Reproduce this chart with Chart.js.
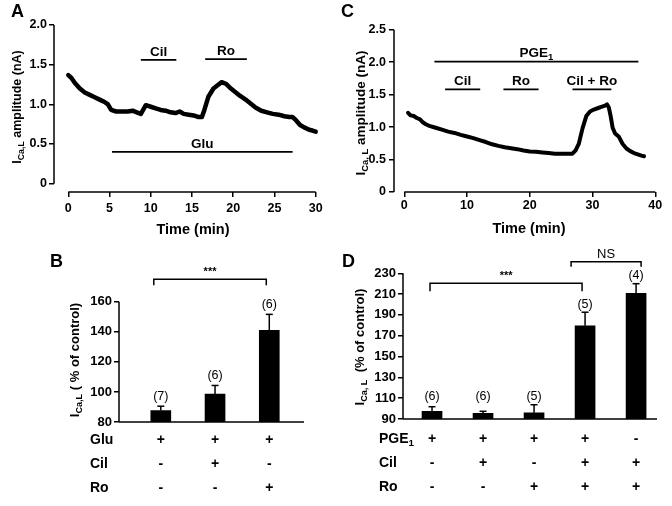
<!DOCTYPE html>
<html>
<head>
<meta charset="utf-8">
<script src="https://cdn.jsdelivr.net/npm/chart.js@4.4.1/dist/chart.umd.min.js"></script>
<style>
  body { margin: 0; background: #fff; width: 672px; height: 506px; position: relative; overflow: hidden; }
  canvas { position: absolute; }
</style>
</head>
<body>
<canvas id="chartA" width="336" height="250" style="left:0;top:0"></canvas>
<canvas id="chartC" width="336" height="250" style="left:336px;top:0"></canvas>
<canvas id="chartB" width="336" height="266" style="left:0;top:240px"></canvas>
<canvas id="chartD" width="336" height="266" style="left:336px;top:240px"></canvas>
<script>
// Panel A: ICa,L trace with glucagon
const timeA = [0, 0.4, 0.8, 1.4, 2, 2.6, 3.2, 3.8, 4.4, 4.8, 5.2, 5.8, 6.5, 7.2, 7.8, 8.3, 8.8, 9.4, 10, 10.6,
  11.2, 11.8, 12.4, 13, 13.5, 14, 14.6, 15.2, 15.8, 16.2, 16.5, 17, 17.6, 18.1, 18.6, 19.1, 19.6, 20.2, 20.8,
  21.5, 22.1, 22.7, 23.4, 24.1, 24.8, 25.5, 26.2, 26.8, 27.2, 27.6, 28.1, 28.6, 29.2, 29.6, 30];
const currentA = [1.37, 1.33, 1.27, 1.20, 1.15, 1.12, 1.09, 1.06, 1.03, 1.00, 0.93, 0.91, 0.91, 0.91, 0.92, 0.90,
  0.88, 0.99, 0.97, 0.95, 0.93, 0.92, 0.90, 0.89, 0.91, 0.88, 0.87, 0.86, 0.84, 0.84, 0.93, 1.10, 1.20, 1.24,
  1.28, 1.26, 1.21, 1.16, 1.11, 1.06, 1.01, 0.96, 0.92, 0.90, 0.88, 0.87, 0.85, 0.84, 0.84, 0.80, 0.74, 0.71,
  0.68, 0.67, 0.655];
const drugA = ['Cil', 'Ro', 'Glu'];
const drugStartA = [8.8, 16.6, 5.3];
const drugEndA = [13.1, 21.65, 27.2];
const drugLevelA = [1.56, 1.57, 0.40];
const xTicksA = [0, 5, 10, 15, 20, 25, 30];
const yTicksA = [0, 0.5, 1, 1.5, 2];

// Panel C: ICa,L trace with PGE1
const timeC = [0.6, 1, 1.5, 2, 2.5, 3, 3.5, 4, 5, 6, 7, 8, 9, 10, 11, 12, 13, 14, 15, 16, 17, 18, 19, 20, 21,
  22, 23, 24, 25, 26, 26.8, 27.3, 27.8, 28.4, 29, 29.6, 30.2, 30.8, 31.4, 32, 32.3, 32.6, 32.9, 33.2, 33.6,
  34.2, 34.8, 35.4, 36, 36.6, 37.2, 37.8, 38.2];
const currentC = [1.22, 1.18, 1.17, 1.14, 1.12, 1.07, 1.04, 1.02, 0.99, 0.96, 0.93, 0.91, 0.88, 0.855, 0.83,
  0.80, 0.77, 0.735, 0.71, 0.69, 0.675, 0.66, 0.64, 0.625, 0.62, 0.61, 0.60, 0.59, 0.59, 0.59, 0.59, 0.64,
  0.74, 0.98, 1.17, 1.24, 1.27, 1.29, 1.31, 1.33, 1.35, 1.30, 1.16, 0.99, 0.90, 0.85, 0.74, 0.67, 0.63, 0.60,
  0.58, 0.56, 0.55];
const drugC = ['PGE1', 'Cil', 'Ro', 'Cil + Ro'];
const drugStartC = [4.8, 6.5, 15.8, 26.8];
const drugEndC = [37.3, 12.1, 21.4, 33.0];
const drugLevelC = [2.01, 1.58, 1.58, 1.58];
const xTicksC = [0, 10, 20, 30, 40];
const yTicksC = [0, 0.5, 1, 1.5, 2, 2.5];

// Panel B: % of control, glucagon
const meanB = [87.6, 98.5, 141];
const errB = [2.9, 5.8, 10.6];
const nB = ['(7)', '(6)', '(6)'];
const rowsB = ['Glu', 'Cil', 'Ro'];
const signsB = [['+', '+', '+'], ['-', '+', '-'], ['-', '-', '+']];
const yTicksB = [80, 100, 120, 140, 160];

// Panel D: % of control, PGE1
const meanD = [97.3, 95.4, 96, 179.5, 210.8];
const errD = [4.5, 2, 7.7, 13.1, 9.2];
const nD = ['(6)', '(6)', '(5)', '(5)', '(4)'];
const rowsD = ['PGE1', 'Cil', 'Ro'];
const signsD = [['+', '+', '+', '+', '-'], ['-', '+', '-', '+', '+'], ['-', '-', '+', '+', '+']];
const yTicksD = [90, 110, 130, 150, 170, 190, 210, 230];

const FONT = '"Liberation Sans", Arial, Helvetica, sans-serif';

// text made of [string, isSubscript] parts
function richParts(name) {
  return name === 'PGE1' ? [['PGE', 0], ['1', 1]] : [[name, 0]];
}

function drawRich(ctx, parts, x, y, size, weight, align) {
  let w = 0;
  parts.forEach(([t, sub]) => {
    ctx.font = `${weight} ${sub ? size * 0.7 : size}px ${FONT}`;
    w += ctx.measureText(t).width;
  });
  let cx = align === 'left' ? x : x - w / 2;
  ctx.textAlign = 'left';
  ctx.textBaseline = 'middle';
  ctx.fillStyle = '#000';
  parts.forEach(([t, sub]) => {
    ctx.font = `${weight} ${sub ? size * 0.7 : size}px ${FONT}`;
    ctx.fillText(t, cx, sub ? y + size * 0.32 : y);
    cx += ctx.measureText(t).width;
  });
}

function drawVertical(ctx, parts, x, y, size) {
  ctx.save();
  ctx.translate(x, y);
  ctx.rotate(-Math.PI / 2);
  drawRich(ctx, parts, 0, 0, size, 'bold');
  ctx.restore();
}

function line(ctx, x1, y1, x2, y2, w) {
  ctx.strokeStyle = '#000';
  ctx.lineWidth = w;
  ctx.beginPath();
  ctx.moveTo(x1, y1);
  ctx.lineTo(x2, y2);
  ctx.stroke();
}

function axisOptions(min, max, ticks, fit, fmt, size, pad, showTicks) {
  return {
    type: 'linear', min: min, max: max, offset: false,
    afterFit: fit,
    afterBuildTicks: s => { s.ticks = ticks.map(v => ({ value: v })); },
    border: { display: false },
    grid: { display: showTicks, drawOnChartArea: false, drawTicks: true, tickLength: 5, color: '#000', lineWidth: 1.5, offset: false },
    ticks: { display: showTicks, color: '#000', font: { family: FONT, size: size, weight: 'bold' }, padding: pad, autoSkip: false, maxRotation: 0, callback: fmt }
  };
}

const fmtNA = v => (v === 0 ? '0' : v.toFixed(1));

function traceChart(id, times, values, width, opts, decor) {
  return new Chart(document.getElementById(id), {
    type: 'line',
    data: {
      datasets: [{
        data: times.map((t, i) => ({ x: t, y: values[i] })),
        borderColor: '#000', borderWidth: width, pointRadius: 0, tension: 0, fill: false,
        borderJoinStyle: 'round', borderCapStyle: 'round'
      }]
    },
    options: {
      responsive: false, animation: false, events: [],
      layout: { padding: opts.padding },
      plugins: { legend: { display: false }, tooltip: { enabled: false } },
      scales: { x: opts.x, y: opts.y }
    },
    plugins: [{ id: id + 'Decor', afterDraw: decor }]
  });
}

function drugBars(chart, names, starts, ends, levels, size) {
  const { ctx, scales: { x, y } } = chart;
  names.forEach((name, i) => {
    const x1 = x.getPixelForValue(starts[i]);
    const x2 = x.getPixelForValue(ends[i]);
    const py = y.getPixelForValue(levels[i]);
    line(ctx, x1, py, x2, py, 1.8);
    drawRich(ctx, richParts(name), (x1 + x2) / 2, py - 8, size, 'bold');
  });
}

// Panel A
traceChart('chartA', timeA, currentA, 4.5, {
  padding: { top: 20, right: 16, left: 0, bottom: 0 },
  x: axisOptions(-1.734, 30.52, xTicksA, s => { s.height = 58; }, v => String(v), 12.5, 4, true),
  y: axisOptions(-0.1046, 2.0635, yTicksA, s => { s.width = 54; }, fmtNA, 12.5, 2, true)
}, chart => {
  const { ctx, chartArea, scales: { x, y } } = chart;
  line(ctx, chartArea.left, y.getPixelForValue(0), chartArea.left, y.getPixelForValue(2), 1.5);
  line(ctx, x.getPixelForValue(0), chartArea.bottom, x.getPixelForValue(30), chartArea.bottom, 1.5);
  drugBars(chart, drugA, drugStartA, drugEndA, drugLevelA, 13.5);
  drawRich(ctx, [['A', 0]], 11, 12, 18, 'bold', 'left');
  drawRich(ctx, [['Time (min)', 0]], 193, 230, 14.5, 'bold');
  drawVertical(ctx, [['I', 0], ['Ca,L', 1], [' amplitude (nA)', 0]], 18, 107, 12.5);
});

// Panel C
traceChart('chartC', timeC, currentC, 4, {
  padding: { top: 22, right: 14, left: 0, bottom: 0 },
  x: axisOptions(-1.64, 40.43, xTicksC, s => { s.height = 58; }, v => String(v), 12.5, 1, true),
  y: axisOptions(0, 2.619, yTicksC, s => { s.width = 58; }, fmtNA, 12.5, 3, true)
}, chart => {
  const { ctx, chartArea, scales: { x, y } } = chart;
  line(ctx, chartArea.left, y.getPixelForValue(0), chartArea.left, y.getPixelForValue(2.5), 1.5);
  line(ctx, x.getPixelForValue(0), chartArea.bottom, x.getPixelForValue(40), chartArea.bottom, 1.5);
  drugBars(chart, drugC, drugStartC, drugEndC, drugLevelC, 13.5);
  drawRich(ctx, [['C', 0]], 5, 12, 18, 'bold', 'left');
  drawRich(ctx, [['Time (min)', 0]], 193, 229, 14.5, 'bold');
  drawVertical(ctx, [['I', 0], ['Ca, L', 1], [' amplitude (nA)', 0]], 25, 113, 13.5);
});

function barChart(id, means, opts, decor) {
  return new Chart(document.getElementById(id), {
    type: 'bar',
    data: {
      datasets: [{
        data: means.map((v, i) => ({ x: i + 1, y: v })),
        backgroundColor: '#000', borderWidth: 0, barThickness: 20
      }]
    },
    options: {
      responsive: false, animation: false, events: [],
      layout: { padding: opts.padding },
      plugins: { legend: { display: false }, tooltip: { enabled: false } },
      scales: { x: opts.x, y: opts.y }
    },
    plugins: [{ id: id + 'Decor', afterDraw: decor }]
  });
}

function errorBars(chart, means, errs, labels, nFloor, lift) {
  const { ctx, scales: { x, y } } = chart;
  means.forEach((m, i) => {
    const px = x.getPixelForValue(i + 1);
    const cap = y.getPixelForValue(m + errs[i]);
    line(ctx, px, y.getPixelForValue(m), px, cap, 1.5);
    line(ctx, px - 3.5, cap, px + 3.5, cap, 1.5);
    let ly = cap - lift;
    if (nFloor !== null) ly = Math.min(ly, y.getPixelForValue(nFloor));
    drawRich(ctx, [[labels[i], 0]], px, ly, 12.5, 'normal');
  });
}

function bracket(ctx, x1, x2, py, drop, text, size, weight) {
  ctx.strokeStyle = '#000';
  ctx.lineWidth = 1.5;
  ctx.beginPath();
  ctx.moveTo(x1, py + drop);
  ctx.lineTo(x1, py);
  ctx.lineTo(x2, py);
  ctx.lineTo(x2, py + drop);
  ctx.stroke();
  drawRich(ctx, [[text, 0]], (x1 + x2) / 2, py - 7, size, weight);
}

function signTable(chart, rows, signs, labelX, firstRow, rowGap) {
  const { ctx, chartArea, scales: { x } } = chart;
  rows.forEach((r, j) => {
    const py = chartArea.bottom + firstRow + j * rowGap;
    drawRich(ctx, richParts(r), labelX, py, 14, 'bold', 'left');
    signs[j].forEach((s, i) => {
      drawRich(ctx, [[s, 0]], x.getPixelForValue(i + 1), py, 14, 'bold');
    });
  });
}

// Panel B
barChart('chartB', meanB, {
  padding: { top: 50, right: 32, left: 0, bottom: 0 },
  x: axisOptions(0.2295, 3.64, [1, 2, 3], s => { s.height = 84; }, v => '', 13, 0, false),
  y: axisOptions(80, 167.8, yTicksB, s => { s.width = 119; }, v => String(v), 13, 2, true)
}, chart => {
  const { ctx, chartArea, scales: { x, y } } = chart;
  line(ctx, chartArea.left, y.getPixelForValue(80), chartArea.left, y.getPixelForValue(160), 1.5);
  line(ctx, chartArea.left, chartArea.bottom, chartArea.right, chartArea.bottom, 1.5);
  errorBars(chart, meanB, errB, nB, null, 10);
  bracket(ctx, x.getPixelForValue(1) - 7, x.getPixelForValue(3) - 3, y.getPixelForValue(175), 6, '***', 11, 'bold');
  drawRich(ctx, [['B', 0]], 50, 22, 18, 'bold', 'left');
  drawVertical(ctx, [['I', 0], ['Ca,L', 1], [' ( % of control)', 0]], 75, 120, 13);
  signTable(chart, rowsB, signsB, 90, 18, 24);
});

// Panel D
barChart('chartD', meanD, {
  padding: { top: 25, right: 15, left: 0, bottom: 0 },
  x: axisOptions(0.431, 5.41, [1, 2, 3, 4, 5], s => { s.height = 87; }, v => '', 13, 0, false),
  y: axisOptions(90, 237.96, yTicksD, s => { s.width = 67; }, v => String(v), 13, 2, true)
}, chart => {
  const { ctx, chartArea, scales: { x, y } } = chart;
  line(ctx, chartArea.left, y.getPixelForValue(90), chartArea.left, y.getPixelForValue(230), 1.5);
  line(ctx, chartArea.left, chartArea.bottom, chartArea.right, chartArea.bottom, 1.5);
  errorBars(chart, meanD, errD, nD, 111.5, 8);
  bracket(ctx, x.getPixelForValue(1) - 2, x.getPixelForValue(4) - 3, y.getPixelForValue(220.4), 8, '***', 11, 'bold');
  bracket(ctx, x.getPixelForValue(4) - 14, x.getPixelForValue(5) + 5, y.getPixelForValue(241.1), 5, 'NS', 13, 'normal');
  drawRich(ctx, [['D', 0]], 6, 22, 18, 'bold', 'left');
  drawVertical(ctx, [['I', 0], ['Ca, L', 1], ['  (% of control)', 0]], 24, 107, 13);
  signTable(chart, rowsD, signsD, 43, 20, 24);
});
</script>
</body>
</html>
